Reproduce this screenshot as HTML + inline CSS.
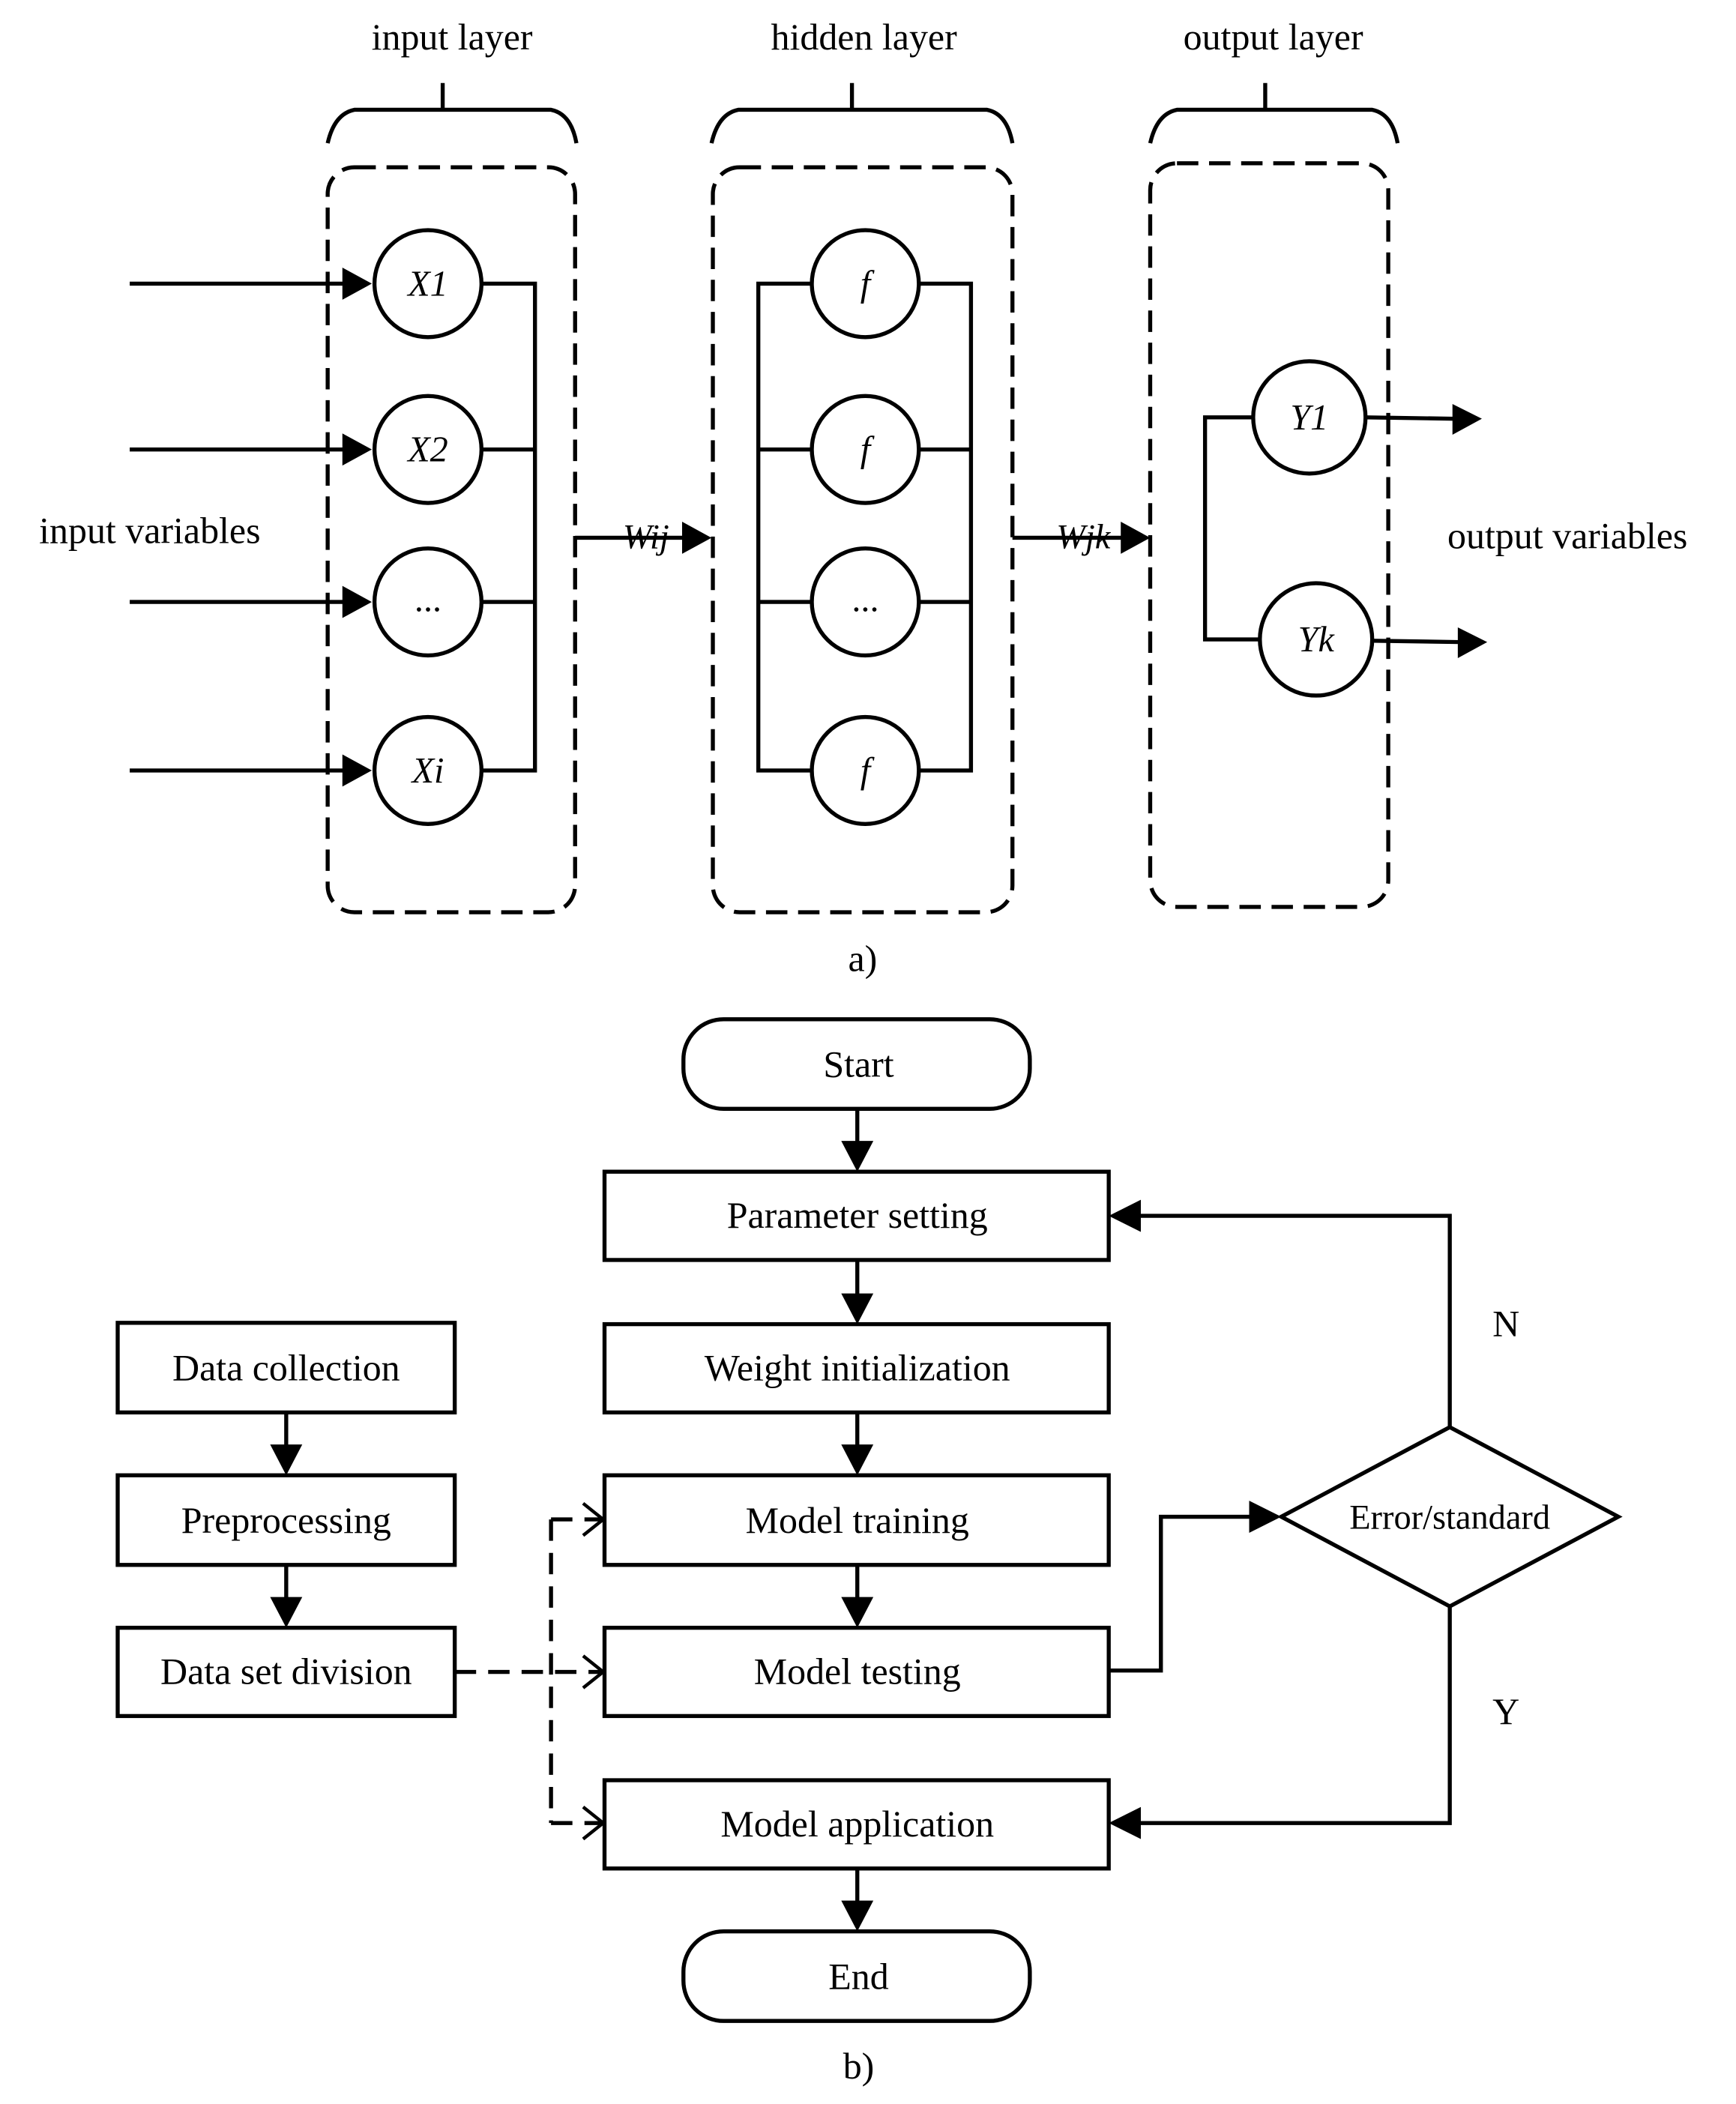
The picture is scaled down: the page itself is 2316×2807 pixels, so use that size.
<!DOCTYPE html>
<html><head><meta charset="utf-8"><style>
html,body{margin:0;padding:0;background:#fff;}
svg{display:block;}
text{font-family:"Liberation Serif",serif;fill:#000;}
</style></head><body>
<svg width="2316" height="2807" viewBox="0 0 1298 1573" xmlns="http://www.w3.org/2000/svg">
<defs>
<marker id="ah" viewBox="0 0 10 10" refX="10" refY="5" markerWidth="6" markerHeight="6" markerUnits="userSpaceOnUse" orient="auto">
</marker>
</defs>
<g fill="none" stroke="#000" stroke-width="3">
<!-- braces -->
<path d="M245,107 Q250,85 265,82 L412,82 Q427,85 431,107 M331,62 L331,82"/>
<path d="M532,107 Q537,85 552,82 L738,82 Q753,85 757,107 M637,62 L637,82"/>
<path d="M860,107 Q865,85 880,82 L1026,82 Q1041,85 1045,107 M946,62 L946,82"/>
<!-- dashed boxes -->
<rect x="245" y="125" width="185" height="557" rx="20" stroke-dasharray="16,8"/>
<rect x="533" y="125" width="224" height="557" rx="20" stroke-dasharray="16,8"/>
<rect x="860" y="122" width="178" height="556" rx="20" stroke-dasharray="16,8"/>
<!-- input circles -->
<circle cx="320" cy="212" r="40"/><circle cx="320" cy="336" r="40"/>
<circle cx="320" cy="450" r="40"/><circle cx="320" cy="576" r="40"/>
<path d="M97,212 H258 M97,336 H258 M97,450 H258 M97,576 H258"/>
<path d="M360,212 H400 V576 H360 M360,336 H400 M360,450 H400"/>
<path d="M430,402 H512"/>
<!-- hidden -->
<circle cx="647" cy="212" r="40"/><circle cx="647" cy="336" r="40"/>
<circle cx="647" cy="450" r="40"/><circle cx="647" cy="576" r="40"/>
<path d="M607,212 H567 V576 H607 M607,336 H567 M607,450 H567"/>
<path d="M687,212 H726 V576 H687 M687,336 H726 M687,450 H726"/>
<path d="M757,402 H840"/>
<!-- output -->
<circle cx="979" cy="312" r="42"/><circle cx="984" cy="478" r="42"/>
<path d="M937,312 H901 V478 H942"/>
<path d="M1021,312 L1088,313 M1026,479 L1092,480"/>
<!-- flowchart -->
<rect x="511" y="762" width="259" height="67" rx="30"/>
<rect x="452" y="876" width="377" height="66"/>
<rect x="452" y="990" width="377" height="66"/>
<rect x="452" y="1103" width="377" height="67"/>
<rect x="452" y="1217" width="377" height="66"/>
<rect x="452" y="1331" width="377" height="66"/>
<rect x="511" y="1444" width="259" height="67" rx="30"/>
<rect x="88" y="989" width="252" height="67"/>
<rect x="88" y="1103" width="252" height="67"/>
<rect x="88" y="1217" width="252" height="66"/>
<path d="M958,1134 L1084,1067 L1210,1134 L1084,1201 Z"/>
<path d="M641,829 V856 M641,942 V970 M641,1056 V1083 M641,1170 V1197 M641,1397 V1424"/>
<path d="M214,1056 V1083 M214,1170 V1197"/>
<path d="M829,1249 H868 V1134 H938"/>
<path d="M1084,1067 V909 H850"/>
<path d="M1084,1201 V1363 H850"/>
<path d="M340,1250 H450 M412,1136 V1363 M412,1136 H450 M412,1363 H450" stroke-dasharray="16,9"/>
<path d="M436,1124 L451,1136 L436,1148 M436,1238 L451,1250 L436,1262 M436,1351 L451,1363 L436,1375" stroke-width="2.5"/>
</g>
<g fill="#000">
<!-- input arrowheads -->
<path d="M278,212 L256,200 L256,224Z M278,336 L256,324 L256,348Z M278,450 L256,438 L256,462Z M278,576 L256,564 L256,588Z"/>
<path d="M532,402 L510,390 L510,414Z M860,402 L838,390 L838,414Z"/>
<path d="M1108,313 L1086,302 L1086,325Z M1112,480 L1090,469 L1090,492Z"/>
<path d="M641,876 L629,853 L653,853Z M641,990 L629,967 L653,967Z M641,1103 L629,1080 L653,1080Z M641,1217 L629,1194 L653,1194Z M641,1444 L629,1421 L653,1421Z"/>
<path d="M214,1103 L202,1080 L226,1080Z M214,1217 L202,1194 L226,1194Z"/>
<path d="M958,1134 L934,1122 L934,1146Z M829,909 L853,897 L853,921Z M829,1363 L853,1351 L853,1375Z"/>
</g>
<g font-size="28" text-anchor="middle">
<text x="338" y="37">input layer</text>
<text x="646" y="37">hidden  layer</text>
<text x="952" y="37">output  layer</text>
<text x="112" y="406">input variables</text>
<text x="1172" y="410">output variables</text>
<text x="645" y="726">a)</text>
<text x="642" y="1554">b)</text>
<g font-style="italic" font-size="27">
<text x="320" y="221">X1</text><text x="320" y="345">X2</text>
<text x="320" y="457" font-style="normal">...</text><text x="320" y="585">Xi</text>
<text x="647" y="221">f</text><text x="647" y="345">f</text>
<text x="647" y="457" font-style="normal">...</text><text x="647" y="585">f</text>
<text x="979" y="321">Y1</text><text x="984" y="487">Yk</text>
<text x="483" y="410" style="font-size:26px">Wij</text>
<text x="810" y="410" style="font-size:26px">Wjk</text>
</g>
<text x="642" y="805">Start</text>
<text x="641" y="918">Parameter setting</text>
<text x="641" y="1032">Weight initialization</text>
<text x="641" y="1146">Model training</text>
<text x="641" y="1259">Model testing</text>
<text x="641" y="1373">Model application</text>
<text x="642" y="1487">End</text>
<text x="214" y="1032">Data collection</text>
<text x="214" y="1146">Preprocessing</text>
<text x="214" y="1259">Data set division</text>
<text x="1084" y="1143" font-size="26">Error/standard</text>
<text x="1126" y="999">N</text>
<text x="1126" y="1289">Y</text>
</g>
</svg>
</body></html>
